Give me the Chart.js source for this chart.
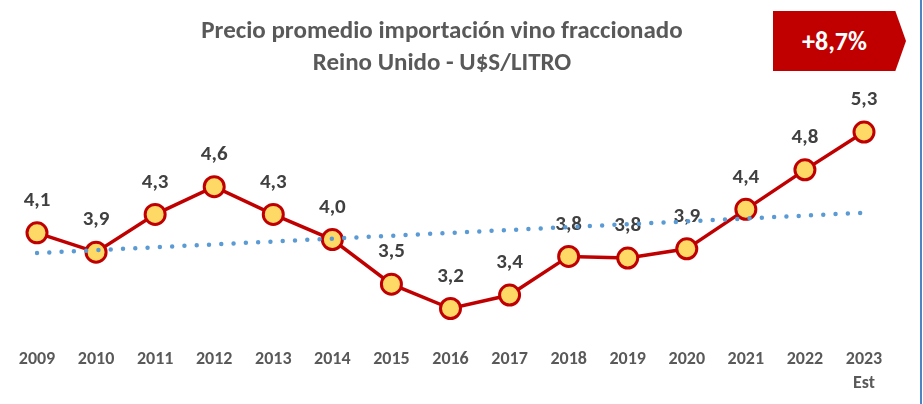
<!DOCTYPE html>
<html>
<head>
<meta charset="utf-8">
<script src="https://cdn.jsdelivr.net/npm/chart.js@4.4.0/dist/chart.umd.min.js"></script>
<style>
    html, body { margin: 0; padding: 0; background: #fff; }
    #wrap { position: relative; width: 923px; height: 404px; overflow: hidden; font-family: Carlito, Lato, "Open Sans", sans-serif; }
    #title {
        position: absolute; left: 0; top: 14px; width: 884px; text-align: center;
        font-weight: bold; font-size: 25px; line-height: 32px; color: #595959;
    }
    #badge {
        position: absolute; left: 773px; top: 11px; width: 133px; height: 60px;
        background: #C00000; color: #fff; font-weight: bold; font-size: 26px;
        line-height: 60px; text-align: center; text-indent: -10px;
        clip-path: polygon(0 0, 92% 0, 100% 50%, 92% 100%, 0 100%);
    }
    #frame { position: absolute; left: 920px; top: 0; width: 2px; height: 404px; background: #4A86C5; }
    canvas { position: absolute; left: 0; top: 0; }
</style>
</head>
<body>
<div id="wrap">
    <canvas id="priceChart" width="923" height="404"></canvas>
    <div id="title">Precio promedio importación vino fraccionado<br>Reino Unido - U$S/LITRO</div>
    <div id="badge">+8,7%</div>
    <div id="frame"></div>
</div>
<script>
// Chart data
const years = ['2009', '2010', '2011', '2012', '2013', '2014', '2015', '2016', '2017', '2018', '2019', '2020', '2021', '2022', '2023'];
const tickLabels = ['2009', '2010', '2011', '2012', '2013', '2014', '2015', '2016', '2017', '2018', '2019', '2020', '2021', '2022', ['2023', 'Est']];
const prices = [4.10, 3.87, 4.32, 4.65, 4.32, 4.02, 3.49, 3.20, 3.36, 3.82, 3.80, 3.91, 4.38, 4.85, 5.30];
const priceLabels = ['4,1', '3,9', '4,3', '4,6', '4,3', '4,0', '3,5', '3,2', '3,4', '3,8', '3,8', '3,9', '4,4', '4,8', '5,3'];
// Trend line: only its two ends are read, the line joins them
const trend = [3.86, null, null, null, null, null, null, null, null, null, null, null, null, null, 4.34];

// Value labels above each point, drawn before the trend so dots sit on top
const valueLabels = {
    id: 'valueLabels',
    afterDatasetDraw(chart, args) {
        if (args.index !== 0) return;
        const ctx = chart.ctx;
        ctx.save();
        ctx.font = 'bold 21px Carlito, Lato, sans-serif';
        ctx.fillStyle = '#404040';
        ctx.textAlign = 'center';
        ctx.textBaseline = 'middle';
        args.meta.data.forEach((pt, i) => {
            ctx.fillText(priceLabels[i], pt.x, pt.y - 32);
        });
        ctx.restore();
    }
};

const ctx = document.getElementById('priceChart').getContext('2d');
new Chart(ctx, {
    type: 'line',
    data: {
        labels: tickLabels,
        datasets: [{
            label: 'Precio',
            data: prices,
            borderColor: '#C00000',
            borderWidth: 3.5,
            pointRadius: 10,
            pointBorderWidth: 3,
            pointBackgroundColor: '#FFD966',
            pointBorderColor: '#C00000',
            tension: 0,
            order: 1
        }, {
            label: 'Tendencia',
            data: trend,
            spanGaps: true,
            borderColor: '#5B9BD5',
            borderWidth: 4.5,
            borderDash: [0, 12.3],
            borderCapStyle: 'round',
            pointRadius: 0,
            order: 0
        }]
    },
    options: {
        responsive: false,
        animation: false,
        layout: { padding: { top: 90, left: 37, right: 59, bottom: 4 } },
        plugins: {
            legend: { display: false },
            tooltip: { enabled: false },
            title: { display: false }
        },
        scales: {
            x: {
                offset: false,
                grid: { display: false, drawTicks: false },
                border: { display: false },
                ticks: {
                    padding: 5,
                    maxRotation: 0,
                    autoSkip: false,
                    color: '#595959',
                    font: { family: 'Carlito, Lato, sans-serif', size: 18, weight: 'bold', lineHeight: 1.33 }
                }
            },
            y: {
                display: false,
                min: 2.8,
                max: 5.8
            }
        }
    },
    plugins: [valueLabels]
});
</script>
</body>
</html>
